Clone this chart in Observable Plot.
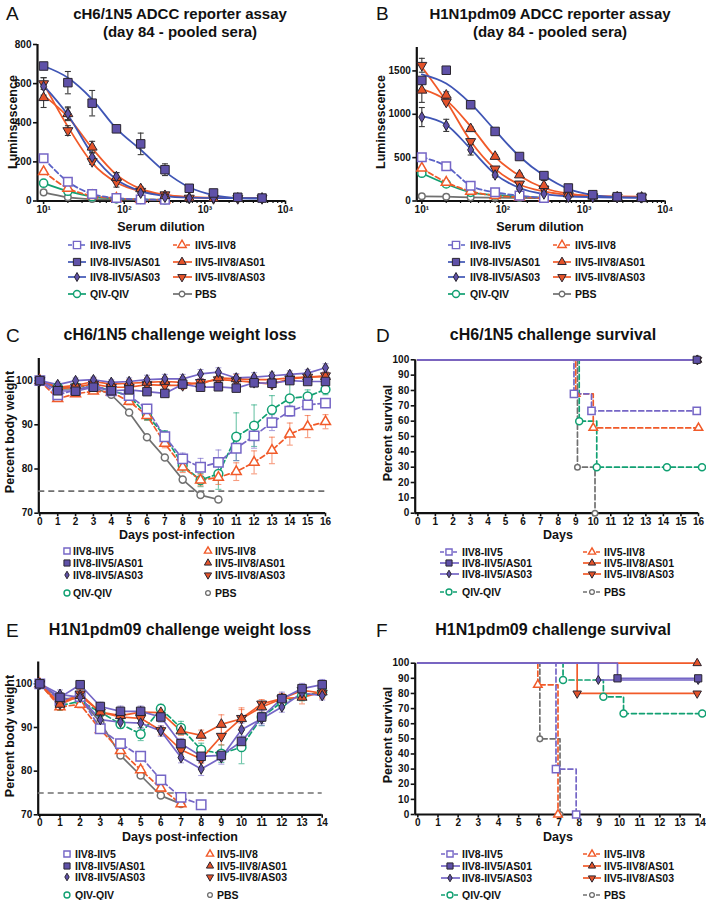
<!DOCTYPE html>
<html>
<head>
<meta charset="utf-8">
<script src="https://cdn.jsdelivr.net/npm/d3@7"></script>
<script src="https://cdn.jsdelivr.net/npm/@observablehq/plot@0.6"></script>
<style>
html,body{margin:0;padding:0;background:#fff;}
#fig{position:relative;width:706px;height:900px;overflow:hidden;font-family:"Liberation Sans",Arial,Helvetica,sans-serif;color:#111;}
.t{position:absolute;white-space:nowrap;line-height:1;}
.letter{font-size:19px;font-weight:normal;}
.title{font-size:16px;font-weight:bold;}
.title.ab{font-size:15px;}
.axl{font-size:12.5px;font-weight:bold;}
.leg{font-size:10.5px;font-weight:bold;}
</style>
</head>
<body>
<div id="fig"></div>
<script>
// ---------------- DATA ----------------
const GROUPS = ["IIV8-IIV5","IIV8-IIV5/AS01","IIV8-IIV5/AS03","IIV5-IIV8","IIV5-IIV8/AS01","IIV5-IIV8/AS03","QIV-QIV","PBS"];
const DILUTIONS = [10,20,40,80,160,320,640,1280,2560,5120];
const DILUTION_TICKS = [10,100,1000,10000];

// Panel A: cH6/1N5 ADCC luminescence (rows follow GROUPS)
const lumA = [
  [219,99,36,15,8,6],
  [690,605,500,369,292,160,65,41,19,15],
  [586,446,224,125,40,19,15,15,15,15],
  [150,65,27,14,8,6],
  [528,446,275,120,62,27,15,13,13,13],
  [600,360,202,96,50,32,15,13,13,13],
  [91,50,22,12,8,6],
  [44,19,10,8,6,5]
];
const errA = [
  [5,5,4,3,2,2],
  [5,57,65,15,55,30,10,6,5,3],
  [45,30,25,20,10,5,4,3,3,3],
  [5,4,3,2,2,2],
  [50,35,30,25,10,6,4,3,3,3],
  [30,25,15,25,10,6,4,3,3,3],
  [4,3,2,2,2,2],
  [3,2,2,2,2,2]
];
const fitA = [
  null,
  [690,630,520,370,262,150,70,30,15,12],
  [590,440,240,110,50,25,17,15,15,15],
  null,
  [540,430,270,135,62,32,20,17,16,15],
  [600,380,195,95,50,30,20,16,15,15],
  null,
  null
];
// Panel B: H1N1pdm09 ADCC luminescence
const lumB = [
  [505,401,177,100,62,35],
  [1390,1508,1110,802,513,293,150,73,50,42],
  [968,872,590,300,147,81,42,40,38,38],
  [378,216,112,62,45,35],
  [1277,1219,833,513,300,177,81,55,45,42],
  [1565,1141,686,370,197,139,62,50,45,42],
  [320,197,100,69,50,40],
  [54,50,42,38,35,33]
];
const errB = [
  [10,10,10,10,8,8],
  [20,10,30,20,15,15,15,10,10,10],
  [110,70,60,25,15,10,10,8,8,8],
  [10,10,8,8,8,8],
  [140,40,20,20,20,60,20,10,10,10],
  [80,20,30,20,20,35,20,10,10,10],
  [10,10,8,8,8,8],
  [5,5,5,5,5,5]
];
const fitB = [
  null,
  [1460,1354,1122,814,513,293,139,69,45,38],
  [980,880,600,310,150,80,55,45,40,40],
  null,
  [1290,1160,860,510,290,150,85,60,52,50],
  [1545,1150,690,370,190,110,70,55,48,45],
  null,
  null
];

// Panel C: cH6/1N5 weight loss
const DAYS_C = [0,1,2,3,4,5,6,7,8,9,10,11,12,13,14,15,16];
const weightC = [
  [100,96.8,97.9,98.9,97.7,96.6,93.6,87.3,82.3,80.4,81.5,84.7,87.5,90.5,93.1,94.5,94.9],
  [100,97.7,97.6,98.5,97.7,97.9,97.5,97.1,99.2,98.5,98.6,98.3,99.5,99.4,100,99.8,99.8],
  [100,99.1,100,100.2,99.6,99.8,100.2,100.4,100.4,101.5,101.9,100.6,100.8,101.1,101.4,101.7,102.9],
  [100,95.9,97.0,97.6,97.4,95.3,92.1,85.8,80.4,77.5,78.1,79.4,81.5,84.2,87.9,89.6,90.7],
  [100,98.5,98.9,99.8,99.2,99.4,99.6,99.8,99.6,99.2,100.6,100.4,100.2,100.2,100.6,100.8,100.9],
  [100,98.1,98.6,99.2,98.5,98.5,99.1,98.9,98.9,99.6,100.2,100,99.6,99.2,100.4,100.8,101.1],
  [100,98.5,98.6,98.9,97.7,96.6,92.2,87.5,80.8,77.5,78.9,87.3,89.8,93.4,96.0,96.4,98.0],
  [100,98.1,98.1,98.5,96.8,92.8,87.2,82.6,77.6,74.1,73.1]
];
const errC = [
  [0,.5,.5,.5,.5,.8,1,1.2,1.3,2,2.8,2.8,2.8,1.8,1.2,.8,.8],
  [0,.8,.8,.6,.6,.6,.8,.8,.8,.8,.6,.6,.6,.6,.6,.6,.6],
  [0,.6,.6,.6,.6,.8,1,1,1,1,1,1,1,.8,.8,.8,.9],
  [0,.5,.5,.5,.5,.8,1,1,1.2,1.3,1.6,2,2.6,3,2.5,2.5,1.6],
  [0,.6,.6,.8,.6,.8,1,1,1.2,1.2,1,1,1,1,1,1,1],
  [0,.6,.6,.6,.6,.6,.8,.8,.8,.8,.8,.8,.8,.8,.8,.8,.8],
  [0,.5,.5,.5,.5,.8,1.2,1.2,1.3,1.5,3.5,5.4,4.7,3.2,3.5,1.5,1.2],
  [0,.3,.3,.3,.3,.4,.5,.5,.4,.4,.6]
];
const THRESHOLD = 75;

// Panel D: cH6/1N5 survival (time points, percent surviving)
const survDTimes = [
  [0,8.9,9.9,15.9],
  [0,15.9],
  [0,15.9],
  [0,9.0,10.0,16.0],
  [0,15.95],
  [0,15.95],
  [0,9.2,10.2,14.2,16.2],
  [0,9.1,10.1]
];
const survDValues = [
  [100,77.8,66.7,66.7],
  [100,100],
  [100,100],
  [100,77.8,55.6,55.6],
  [100,100],
  [100,100],
  [100,60,30,30,30],
  [100,30,0]
];

// Panel E: H1N1pdm09 weight loss
const DAYS_E = [0,1,2,3,4,5,6,7,8,9,10,11,12,13,14];
const weightE = [
  [100,96.2,97.1,89.7,86.3,83.4,78.0,74.0,72.3],
  [100,96.9,99.8,94.8,93.7,93.7,92.4,86.3,83.4,83.6,86.8,92.4,96.6,98.9,99.8],
  [100,97.6,96.9,91.8,91.2,91.0,89.2,83.1,80.5,83.1,89.5,92.0,94.7,97.9,97.3],
  [100,94.7,95.3,89.5,84.7,80.3,76.1,72.5],
  [100,95.3,97.3,93.5,92.7,93.5,93.4,89.2,88.2,90.7,92.0,94.7,96.6,96.9,98.1],
  [100,95.4,97.7,93.5,92.4,92.1,89.3,84.9,82.8,88.0,92.1,95.4,96.6,98.5,97.9],
  [100,95.0,96.0,93.5,90.8,88.5,94.3,89.9,84.9,84.0,85.5,92.4,95.8,97.3,98.1],
  [100,96.6,96.6,91.2,83.6,79.0,74.4,72.5]
];
const errE = [
  [0,1,1,1,1,1,1,1,.6],
  [0,1,.6,1,1.2,1.2,1.2,1.2,1.2,1.2,1.2,1.5,1.5,1.2,1.2],
  [0,1,1,1,1,1.2,1.2,1.2,1.5,1.5,1.5,1.5,1.2,1,1],
  [0,.8,.8,.8,.8,.8,.8,.5],
  [0,1,1,1,1,1,1,1,1.2,2.2,2.5,1.2,1.2,1.5,1.5],
  [0,1,1,1,1,1,1,1,1,2,2,1,1,1,1],
  [0,1,1,1,1,1.5,1,1.5,1.5,2,3.8,2,1.5,1.2,1],
  [0,.5,.5,.5,.5,.5,.6,.5]
];

// Panel F: H1N1pdm09 survival
const survFTimes = [
  [0,6.85,7.85],
  [0,9.9,13.9],
  [0,8.95,13.9],
  [0,5.95,6.95],
  [0,13.85],
  [0,7.9,13.85],
  [0,7.2,9.2,10.2,14.1],
  [0,6.05,7.05]
];
const survFValues = [
  [100,30,0],
  [100,90,90],
  [100,88.9,88.9],
  [100,85.7,0],
  [100,100],
  [100,80,80],
  [100,88.9,77.8,66.7,66.7],
  [100,50,0]
];

const TICKS_LUM_A = [0,200,400,600,800];
const TICKS_LUM_B = [0,500,1000,1500];
const TICKS_WEIGHT = [70,80,90,100];
const TICKS_SURV = [0,10,20,30,40,50,60,70,80,90,100];
const TICKS_DAYS16 = [0,1,2,3,4,5,6,7,8,9,10,11,12,13,14,15,16];
const TICKS_DAYS14 = [0,1,2,3,4,5,6,7,8,9,10,11,12,13,14];

// ---------------- STYLES ----------------
const C_PURPLE = "#7566c6", C_PFILL = "#5f51a8", C_BLUE = "#3f55b5", C_OR = "#f15a29",
      C_OFILL = "#e4532a", C_GREEN = "#11a072", C_GRAY = "#707070", C_EDGE = "#2a2530";
const STYLE = {
  "IIV8-IIV5":      {line:C_PURPLE, ab:"#5b62c6", mStroke:C_PURPLE, mFill:"white", sym:"square", rot:0, open:true, dashAB:true, dashW:true, dashS:true},
  "IIV8-IIV5/AS01": {line:C_PURPLE, ab:C_BLUE, mStroke:C_EDGE, mFill:C_PFILL, sym:"square", rot:0, open:false, dashAB:false, dashW:false, dashS:false},
  "IIV8-IIV5/AS03": {line:C_PURPLE, ab:C_BLUE, mStroke:C_EDGE, mFill:C_PFILL, sym:"diamond", rot:0, open:false, dashAB:false, dashW:false, dashS:false},
  "IIV5-IIV8":      {line:C_OR, ab:C_OR, mStroke:C_OR, mFill:"white", sym:"triangle", rot:0, open:true, dashAB:true, dashW:true, dashS:true},
  "IIV5-IIV8/AS01": {line:C_OR, ab:C_OR, mStroke:C_EDGE, mFill:C_OFILL, sym:"triangle", rot:0, open:false, dashAB:false, dashW:false, dashS:false},
  "IIV5-IIV8/AS03": {line:C_OR, ab:C_OR, mStroke:C_EDGE, mFill:C_OFILL, sym:"triangle", rot:180, open:false, dashAB:false, dashW:false, dashS:false},
  "QIV-QIV":        {line:C_GREEN, ab:C_GREEN, mStroke:C_GREEN, mFill:"white", sym:"circle", rot:0, open:true, dashAB:false, dashW:true, dashS:true},
  "PBS":            {line:C_GRAY, ab:C_GRAY, mStroke:C_GRAY, mFill:"white", sym:"circle", rot:0, open:true, dashAB:false, dashW:false, dashS:true}
};
const DRAW_ORDER = [7,6,3,0,5,4,2,1];
const SYM = {square:d3.symbolSquare, triangle:d3.symbolTriangle, diamond:d3.symbolDiamond, circle:d3.symbolCircle};

function radius(g, kind) {
  const s = STYLE[g];
  let r = {square:4.8, diamond:3.2, triangle:3.7, circle:4.1}[s.sym];
  if (kind === "W" && s.open && s.sym === "square") r = 5.3;
  if (kind === "W" && s.open && s.sym === "circle") r = 4.4;
  if (kind === "S") r *= 0.85;
  if (g === "PBS") r *= 0.8;
  return r;
}
function dashed(g, kind) {
  const s = STYLE[g];
  return kind === "AB" ? s.dashAB : kind === "W" ? s.dashW : s.dashS;
}

// ---------------- HELPERS ----------------
const fig = document.getElementById("fig");
function text(str, x, y, cls, align = "center", rot = false) {
  const d = document.createElement("div");
  d.className = "t " + cls;
  d.textContent = str;
  d.style.left = x + "px";
  d.style.top = y + "px";
  const tx = align === "center" ? "-50%" : "0";
  d.style.transform = `translate(${tx},-50%)` + (rot ? " rotate(-90deg)" : "");
  fig.appendChild(d);
}

const CAP = {draw(ctx, size) { const w = Math.sqrt(size / Math.PI); ctx.moveTo(-w, 0); ctx.lineTo(w, 0); }};
function errMarks(pts, color, capR, opacity = 1) {
  const e = pts.filter(p => p.hi - p.lo > 0);
  return [
    Plot.ruleX(e, {x:"x", y1:"lo", y2:"hi", stroke:color, strokeWidth:1.1, strokeOpacity:opacity}),
    Plot.dot(e, {x:"x", y:"lo", symbol:CAP, r:capR, fill:"none", stroke:color, strokeWidth:1.1, strokeOpacity:opacity}),
    Plot.dot(e, {x:"x", y:"hi", symbol:CAP, r:capR, fill:"none", stroke:color, strokeWidth:1.1, strokeOpacity:opacity})
  ];
}
function dotMark(pts, g, kind) {
  const s = STYLE[g];
  return Plot.dot(pts, {x:"x", y:"y", symbol:s.sym, r:radius(g, kind), fill:s.mFill, stroke:s.mStroke,
    strokeWidth: s.open ? 1.5 : 1, rotate: s.rot});
}

function doseMarks(vals, errs, fits) {
  const lines = [], bars = [], dots = [];
  DRAW_ORDER.forEach(i => {
    const g = GROUPS[i], s = STYLE[g];
    const pts = vals[i].map((v, j) => ({x:DILUTIONS[j], y:v, lo:v - errs[i][j], hi:v + errs[i][j]}));
    const curve = fits[i] ? fits[i].map((v, j) => ({x:DILUTIONS[j], y:v})) : pts;
    lines.push(Plot.line(curve, {x:"x", y:"y", curve:"monotone-x", stroke:s.ab, strokeWidth:1.8,
      strokeDasharray: s.dashAB ? "5,3" : undefined}));
    bars.push(...errMarks(pts, "#3a3a3a", 3));
    dots.push(dotMark(pts, g, "AB"));
  });
  return [...lines, ...bars, ...dots];
}
function weightMarks(days, vals, errs) {
  const lines = [], bars = [], dots = [];
  DRAW_ORDER.forEach(i => {
    const g = GROUPS[i], s = STYLE[g];
    const pts = vals[i].map((v, j) => ({x:days[j], y:v, lo:v - errs[i][j], hi:v + errs[i][j]}));
    lines.push(Plot.line(pts, {x:"x", y:"y", stroke:s.line, strokeWidth:1.7,
      strokeDasharray: s.dashW ? "5,3" : undefined}));
    bars.push(...errMarks(pts, s.line, 3, 0.6));
    dots.push(dotMark(pts, g, "W"));
  });
  return [Plot.ruleY([THRESHOLD], {stroke:"#707070", strokeWidth:1.6, strokeDasharray:"6,4"}), ...bars, ...lines, ...dots];
}
function survMarks(times, vals) {
  const lines = [], dots = [];
  DRAW_ORDER.forEach(i => {
    const g = GROUPS[i], s = STYLE[g];
    const pts = times[i].map((t, j) => ({x:t, y:vals[i][j]}));
    lines.push(Plot.line(pts, {x:"x", y:"y", curve:"step-after", stroke:s.line, strokeWidth:1.7,
      strokeDasharray: s.dashS ? "5,3" : undefined}));
    dots.push(dotMark(pts.slice(1), g, "S"));
  });
  return [...lines, ...dots];
}

const SUP = {1:"\u00b9", 2:"\u00b2", 3:"\u00b3", 4:"\u2074"};
const powFmt = d => "10" + SUP[Math.round(Math.log10(d))];
const MINOR = [];
for (const dec of [10,100,1000]) for (const m of [2,3,4,5,6,7,8,9]) MINOR.push(dec * m);

function panel(cfg) {
  const W = 353;
  const marks = [
    Plot.axisY({ticks:cfg.yTicks, tickSize:4, tickPadding:2, strokeWidth:1.6, tickFormat:d => String(d), label:null}),
    Plot.axisX({ticks:cfg.xTicks, tickSize:3.5, tickPadding:1, strokeWidth:1.6, tickFormat:cfg.xFmt || (d => String(d)), label:null})
  ];
  if (cfg.minor) marks.push(Plot.axisX({ticks:cfg.minor, tickSize:2.5, strokeWidth:1.2, tickFormat:() => "", label:null}));
  marks.push(Plot.ruleX([cfg.xDomain[0]], {strokeWidth:2.2}), Plot.ruleY([cfg.yDomain[0]], {strokeWidth:2.2}));
  marks.push(...cfg.marks);
  const svg = Plot.plot({
    width: W, height: cfg.h,
    marginLeft: cfg.px[0] - cfg.left, marginRight: cfg.left + W - cfg.px[1],
    marginTop: cfg.py[0] - cfg.top, marginBottom: cfg.top + cfg.h - cfg.py[1],
    x: {type: cfg.xType || "linear", domain: cfg.xDomain},
    y: {domain: cfg.yDomain},
    style: {fontFamily:'"Liberation Sans", Arial, sans-serif', fontSize:"10px", fontWeight:"bold", color:"#111",
      background:"transparent", overflow:"visible"},
    marks
  });
  svg.style.position = "absolute";
  svg.style.left = cfg.left + "px";
  svg.style.top = cfg.top + "px";
  svg.style.overflow = "visible";
  fig.appendChild(svg);
}

// ---------------- PANELS ----------------
panel({left:0, top:36, h:184, px:[37,285], py:[44,200.5], xType:"log", xDomain:[8.4,10000], yDomain:[0,800],
  yTicks:TICKS_LUM_A, xTicks:DILUTION_TICKS, xFmt:powFmt, minor:MINOR, marks:doseMarks(lumA, errA, fitA)});
panel({left:353, top:36, h:184, px:[416.3,664.7], py:[47,200.5], xType:"log", xDomain:[8.67,10000], yDomain:[0,1770],
  yTicks:TICKS_LUM_B, xTicks:DILUTION_TICKS, xFmt:powFmt, minor:MINOR, marks:doseMarks(lumB, errB, fitB)});
panel({left:0, top:350, h:178, px:[38.3,325], py:[358,512.7], xDomain:[-0.06,16], yDomain:[70,105],
  yTicks:TICKS_WEIGHT, xTicks:TICKS_DAYS16, marks:weightMarks(DAYS_C, weightC, errC)});
panel({left:353, top:350, h:178, px:[414.7,698], py:[359.3,512.7], xDomain:[-0.15,16], yDomain:[0,100],
  yTicks:TICKS_SURV, xTicks:TICKS_DAYS16, marks:survMarks(survDTimes, survDValues)});
panel({left:0, top:650, h:180, px:[37.7,321.7], py:[661.5,814.3], xDomain:[-0.08,14], yDomain:[70,105],
  yTicks:TICKS_WEIGHT, xTicks:TICKS_DAYS14, marks:weightMarks(DAYS_E, weightE, errE)});
panel({left:353, top:650, h:180, px:[414.7,699.7], py:[662.7,814], xDomain:[-0.13,14], yDomain:[0,100],
  yTicks:TICKS_SURV, xTicks:TICKS_DAYS14, marks:survMarks(survFTimes, survFValues)});

// ---------------- TEXT ----------------
text("A", 6, 13, "letter", "left");
text("cH6/1N5 ADCC reporter assay", 180, 13, "title ab");
text("(day 84 - pooled sera)", 180, 31, "title ab");
text("B", 376, 13, "letter", "left");
text("H1N1pdm09 ADCC reporter assay", 550, 13, "title ab");
text("(day 84 - pooled sera)", 550, 31, "title ab");
text("C", 6, 335, "letter", "left");
text("cH6/1N5 challenge weight loss", 180, 335, "title");
text("D", 376, 335, "letter", "left");
text("cH6/1N5 challenge survival", 553, 335, "title");
text("E", 6, 630, "letter", "left");
text("H1N1pdm09 challenge weight loss", 180, 630, "title");
text("F", 376, 630, "letter", "left");
text("H1N1pdm09 challenge survival", 553, 630, "title");

text("Luminsescence", 12.5, 122, "axl", "center", true);
text("Luminsescence", 381, 122, "axl", "center", true);
text("Serum dilution", 161, 227, "axl");
text("Serum dilution", 540, 227, "axl");
text("Percent body weight", 10, 432, "axl", "center", true);
text("Days post-infection", 177, 535, "axl");
text("Percent survival", 388, 433, "axl", "center", true);
text("Days", 558, 535, "axl");
text("Percent body weight", 10, 736, "axl", "center", true);
text("Days post-infection", 180, 837, "axl");
text("Percent survival", 388, 735, "axl", "center", true);
text("Days", 558, 837, "axl");

// ---------------- LEGENDS ----------------
const overlay = d3.select(fig).append("svg").attr("width", 706).attr("height", 900)
  .style("position", "absolute").style("left", 0).style("top", 0).style("pointer-events", "none");
const LEG_LEFT = ["IIV8-IIV5","IIV8-IIV5/AS01","IIV8-IIV5/AS03","QIV-QIV"];
const LEG_RIGHT = ["IIV5-IIV8","IIV5-IIV8/AS01","IIV5-IIV8/AS03","PBS"];
function legend(L) {
  [LEG_LEFT, LEG_RIGHT].forEach((names, c) => {
    const col = L.cols[c];
    names.forEach((g, i) => {
      const y = L.rows[i], s = STYLE[g];
      if (L.line) {
        overlay.append("line").attr("x1", col.l0).attr("x2", col.l1).attr("y1", y).attr("y2", y)
          .attr("stroke", L.kind === "AB" ? s.ab : s.line).attr("stroke-width", 1.7)
          .attr("stroke-dasharray", dashed(g, L.kind) ? "4,2.5" : null);
      }
      const r = radius(g, L.kind === "AB" ? "AB" : "S") * 0.85;
      overlay.append("path").attr("d", d3.symbol(SYM[s.sym], Math.PI * r * r)())
        .attr("transform", `translate(${col.m},${y}) rotate(${s.rot})`)
        .attr("fill", s.mFill).attr("stroke", s.mStroke).attr("stroke-width", s.open ? 1.4 : 1);
      text(g, col.t, y, "leg", "left");
    });
  });
}
legend({kind:"AB", line:true, rows:[245,262,277,294], cols:[{l0:68,l1:86,m:77,t:90},{l0:173,l1:192,m:182,t:195}]});
legend({kind:"AB", line:true, rows:[245,262,277,294], cols:[{l0:448,l1:465,m:456,t:470},{l0:553,l1:571,m:562,t:575}]});
legend({kind:"W", line:false, rows:[551,563,575,593], cols:[{m:67,t:73},{m:208,t:215}]});
legend({kind:"S", line:true, rows:[552,563,574,592], cols:[{l0:440,l1:459,m:449,t:462},{l0:583,l1:601,m:592,t:604}]});
legend({kind:"W", line:false, rows:[854,866,877,895], cols:[{m:67,t:75},{m:210,t:217}]});
legend({kind:"S", line:true, rows:[854,866,878,895], cols:[{l0:441,l1:460,m:450,t:462},{l0:583,l1:601,m:592,t:604}]});
</script>
</body>
</html>
